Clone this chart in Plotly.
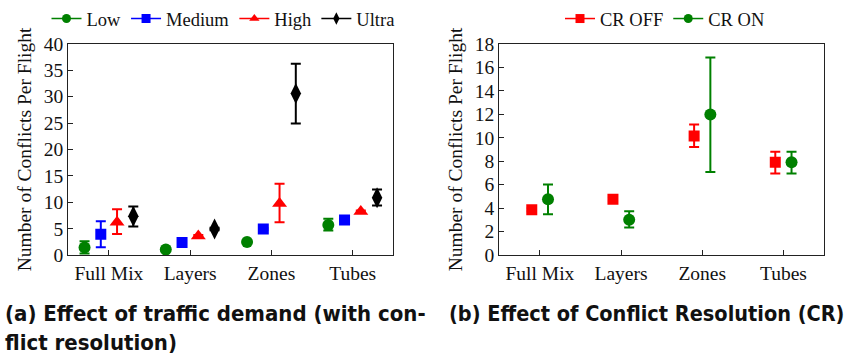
import plotly.graph_objects as go

# ---- data ----
categories = ["Full Mix", "Layers", "Zones", "Tubes"]

demand_levels = ["Low", "Medium", "High", "Ultra"]
low_mean = [1.45, 1.05, 2.5, 5.7]
low_upper = [2.6, 1.3, 2.75, 6.9]
low_lower = [0.3, 0.8, 2.25, 4.65]
medium_mean = [3.95, 2.4, 4.95, 6.65]
medium_upper = [6.4, 2.6, 5.15, 6.85]
medium_lower = [1.5, 2.2, 4.75, 6.45]
high_mean = [6.2, 3.6, 9.75, 8.25]
high_upper = [8.7, 3.8, 13.5, 8.45]
high_lower = [4.0, 3.4, 6.2, 8.05]
ultra_mean = [7.35, 4.95, 30.6, 10.85]
ultra_upper = [9.2, 5.2, 36.2, 12.4]
ultra_lower = [5.4, 4.7, 24.9, 9.4]

cr_off_mean = [3.87, 4.75, 10.15, 7.9]
cr_off_upper = [4.0, 4.9, 11.13, 8.8]
cr_off_lower = [3.74, 4.6, 9.2, 6.95]
cr_on_mean = [4.75, 3.02, 11.98, 7.9]
cr_on_upper = [6.02, 3.74, 16.83, 8.8]
cr_on_lower = [3.47, 2.36, 7.08, 6.95]

left_yticks = [0, 5, 10, 15, 20, 25, 30, 35, 40]
right_yticks = [0, 2, 4, 6, 8, 10, 12, 14, 16, 18]

# ---- style ----
SERIF = "Liberation Serif, Times New Roman, serif"
CAP_FONT = "DejaVu Sans Condensed, Liberation Sans Narrow, DejaVu Sans, sans-serif"
GREEN = "#008000"
BLUE = "#0000ff"
RED = "#ff0000"
BLACK = "#000000"

fig = go.Figure()


def add_series(name, means, upper, lower, offset, color, symbol, size, xa, ya, legend):
    xs = [i + offset for i in range(len(means))]
    fig.add_trace(go.Scatter(
        x=xs, y=means, name=name, mode="markers", showlegend=False,
        marker=dict(color=color, symbol=symbol, size=size, line=dict(width=0)),
        error_y=dict(type="data", symmetric=False,
                     array=[u - m for u, m in zip(upper, means)],
                     arrayminus=[m - l for m, l in zip(means, lower)],
                     color=color, thickness=2, width=5),
        xaxis=xa, yaxis=ya,
    ))
    # legend entry (line + marker, like the reference legend)
    fig.add_trace(go.Scatter(
        x=[None], y=[None], name=name, mode="lines+markers",
        line=dict(color=color, width=1.5),
        marker=dict(color=color, symbol=symbol, size=min(size, 11) - 2),
        xaxis=xa, yaxis=ya, legend=legend, showlegend=True,
    ))


series_a = [
    ("Low", low_mean, low_upper, low_lower, -0.3, GREEN, "circle", 12),
    ("Medium", medium_mean, medium_upper, medium_lower, -0.1, BLUE, "square", 11),
    ("High", high_mean, high_upper, high_lower, 0.1, RED, "triangle-up", 13),
    ("Ultra", ultra_mean, ultra_upper, ultra_lower, 0.3, BLACK, "diamond-tall", 15),
]
for s in series_a:
    add_series(*s, "x", "y", "legend")

series_b = [
    ("CR OFF", cr_off_mean, cr_off_upper, cr_off_lower, -0.1, RED, "square", 11),
    ("CR ON", cr_on_mean, cr_on_upper, cr_on_lower, 0.1, GREEN, "circle", 12),
]
for s in series_b:
    add_series(*s, "x2", "y2", "legend2")

axis_common = dict(showline=True, linecolor="#222", linewidth=1.2, mirror=True,
                   ticks="inside", ticklen=5, tickcolor="#222", showgrid=False,
                   zeroline=False, tickfont=dict(family=SERIF, size=19.5, color="#111"))

ybottom = 1 - 260 / 354
ytop = 1 - 34 / 354
legend_y = 1 - 7.5 / 354

fig.update_layout(
    width=845, height=354,
    margin=dict(l=0, r=0, t=0, b=0),
    paper_bgcolor="white", plot_bgcolor="white",
    xaxis=dict(domain=[68.3 / 845, 393.3 / 845], range=[-0.5, 3.5],
               tickvals=[0, 1, 2, 3], ticktext=categories, anchor="y", **axis_common),
    yaxis=dict(domain=[ybottom, ytop], range=[0, 40], tickvals=left_yticks,
               anchor="x", title=dict(text="Number of Conflicts Per Flight",
                                      font=dict(family=SERIF, size=19.5, color="#111"),
                                      standoff=6),
               **axis_common),
    xaxis2=dict(domain=[499.3 / 845, 824 / 845], range=[-0.5, 3.5],
                tickvals=[0, 1, 2, 3], ticktext=categories, anchor="y2", **axis_common),
    yaxis2=dict(domain=[ybottom, ytop], range=[0, 18], tickvals=right_yticks,
                anchor="x2", title=dict(text="Number of Conflicts Per Flight",
                                        font=dict(family=SERIF, size=19.5, color="#111"),
                                        standoff=6),
                **axis_common),
    legend=dict(orientation="h", x=223 / 845, xanchor="center", y=legend_y, yanchor="middle",
                font=dict(family=SERIF, size=18.5, color="#111"), bgcolor="rgba(0,0,0,0)",
                itemwidth=30),
    legend2=dict(orientation="h", x=665 / 845, xanchor="center", y=legend_y, yanchor="middle",
                 font=dict(family=SERIF, size=18.5, color="#111"), bgcolor="rgba(0,0,0,0)",
                 itemwidth=30),
    showlegend=True,
)

fig.add_annotation(text="<b>(a) Effect of traffic demand (with con-<br>flict resolution)</b>",
                   x=3 / 845, y=1 - 307 / 354, xref="paper", yref="paper",
                   xanchor="left", yanchor="top", align="left", showarrow=False,
                   font=dict(family=CAP_FONT, size=22, color="#111"))
fig.add_annotation(text="<b>(b) Effect of Conflict Resolution (CR)</b>",
                   x=447 / 845, y=1 - 307 / 354, xref="paper", yref="paper",
                   xanchor="left", yanchor="top", align="left", showarrow=False,
                   font=dict(family=CAP_FONT, size=21.5, color="#111"))

fig.write_html("out.html")
